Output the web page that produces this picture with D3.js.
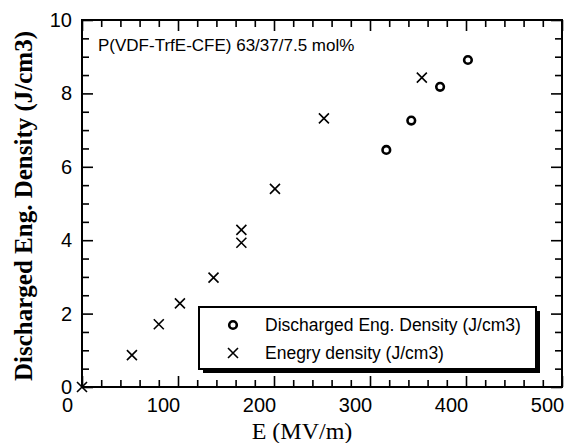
<!DOCTYPE html>
<html>
<head>
<meta charset="utf-8">
<script src="https://cdn.jsdelivr.net/npm/d3@7"></script>
<style>
  body { margin: 0; background: #fff; }
  svg { display: block; }
  .tick text { font-family: "Liberation Sans", Arial, sans-serif; }
</style>
</head>
<body>
<svg id="chart" width="566" height="443"></svg>
<script>
// values
var crossE = [0, 52, 80, 102, 137, 166, 166, 201, 252, 354]
var crossD = [0, 0.87, 1.71, 2.28, 2.98, 3.93, 4.28, 5.40, 7.32, 8.43]
var circE = [317, 343, 373, 402]
var circD = [6.46, 7.26, 8.18, 8.91]
var xLabels = [0, 100, 200, 300, 400, 500]
var yLabels = [0, 2, 4, 6, 8, 10]
var legendNames = ['Discharged Eng. Density (J/cm3)', 'Enegry density (J/cm3)']
var note = 'P(VDF-TrfE-CFE) 63/37/7.5 mol%'

var svg = d3.select('#chart')
// plot box (note: "top" is reserved on window, so use an object)
var box = {left: 82, right: 562, top: 20, bottom: 387}

var x = d3.scaleLinear().domain([0, 500]).range([box.left, box.right])
var y = d3.scaleLinear().domain([0, 10]).range([box.bottom, box.top])

var xMinor = d3.range(0, 501, 20).filter(function(d) { return d % 100 })
var yMinor = d3.range(0, 10.01, 0.5).filter(function(d) { return d % 2 })

function tickAxis(axis, t) {
  var g = svg.append('g').attr('transform', t).call(axis)
  g.select('.domain').remove()
  g.selectAll('.tick line').attr('stroke', '#000').attr('stroke-width', 1.6)
  g.selectAll('.tick text').remove()
  return g
}

// major + minor ticks on all four sides, pointing inward
tickAxis(d3.axisBottom(x).tickValues(xLabels).tickSize(-11), 'translate(0,' + box.bottom + ')')
tickAxis(d3.axisBottom(x).tickValues(xMinor).tickSize(-7), 'translate(0,' + box.bottom + ')')
tickAxis(d3.axisTop(x).tickValues(xLabels).tickSize(-11), 'translate(0,' + box.top + ')')
tickAxis(d3.axisTop(x).tickValues(xMinor).tickSize(-7), 'translate(0,' + box.top + ')')
tickAxis(d3.axisLeft(y).tickValues(yLabels).tickSize(-11), 'translate(' + box.left + ',0)')
tickAxis(d3.axisLeft(y).tickValues(yMinor).tickSize(-7), 'translate(' + box.left + ',0)')
tickAxis(d3.axisRight(y).tickValues(yLabels).tickSize(-11), 'translate(' + box.right + ',0)')
tickAxis(d3.axisRight(y).tickValues(yMinor).tickSize(-7), 'translate(' + box.right + ',0)')

// frame
svg.append('rect')
  .attr('x', box.left).attr('y', box.top)
  .attr('width', box.right - box.left).attr('height', box.bottom - box.top)
  .attr('fill', 'none').attr('stroke', '#000').attr('stroke-width', 2)

// tick labels (the scan has the x labels sitting a bit left of their ticks)
var xl = svg.append('g')
  .attr('transform', 'translate(-15,' + box.bottom + ')')
  .call(d3.axisBottom(x).tickValues(xLabels).tickSize(0).tickPadding(11))
xl.select('.domain').remove()
xl.selectAll('text').attr('font-size', 20).attr('fill', '#000')

var yl = svg.append('g')
  .attr('transform', 'translate(' + box.left + ',0)')
  .call(d3.axisLeft(y).tickValues(yLabels).tickSize(0).tickPadding(10))
yl.select('.domain').remove()
yl.selectAll('text').attr('font-size', 20).attr('fill', '#000')

// axis titles
svg.append('text')
  .attr('x', 302).attr('y', 439)
  .attr('text-anchor', 'middle')
  .attr('font-family', '"Liberation Serif", "Times New Roman", serif')
  .attr('font-size', 24)
  .text('E (MV/m)')

svg.append('text')
  .attr('transform', 'translate(32,206) rotate(-90)')
  .attr('text-anchor', 'middle')
  .attr('font-family', '"Liberation Serif", "Times New Roman", serif')
  .attr('font-weight', 'bold')
  .attr('font-size', 25)
  .text('Discharged Eng. Density (J/cm3)')

svg.append('text')
  .attr('x', 98).attr('y', 51)
  .attr('font-family', '"Liberation Sans", Arial, sans-serif')
  .attr('font-size', 17)
  .text(note)

function cross(sel, size) {
  sel.append('path')
    .attr('d', 'M' + -size + ',' + -size + 'L' + size + ',' + size +
               'M' + -size + ',' + size + 'L' + size + ',' + -size)
    .attr('stroke', '#000').attr('stroke-width', 1.6).attr('fill', 'none')
}

// energy density crosses
svg.append('g').selectAll('g')
  .data(d3.range(crossE.length))
  .join('g')
  .attr('transform', function(i) { return 'translate(' + x(crossE[i]) + ',' + y(crossD[i]) + ')' })
  .call(cross, 5)

// discharged density circles
svg.append('g').selectAll('circle')
  .data(d3.range(circE.length))
  .join('circle')
  .attr('cx', function(i) { return x(circE[i]) })
  .attr('cy', function(i) { return y(circD[i]) })
  .attr('r', 3.8)
  .attr('fill', 'none').attr('stroke', '#000').attr('stroke-width', 2.6)

// legend box with drop shadow
var lg = svg.append('g').attr('transform', 'translate(199,307)')
lg.append('rect').attr('x', 4).attr('y', 4).attr('width', 337).attr('height', 62).attr('fill', '#000')
lg.append('rect').attr('width', 337).attr('height', 62)
  .attr('fill', '#fff').attr('stroke', '#000').attr('stroke-width', 2)

lg.append('circle').attr('cx', 34).attr('cy', 18).attr('r', 3.8)
  .attr('fill', 'none').attr('stroke', '#000').attr('stroke-width', 2.6)
lg.append('g').attr('transform', 'translate(34,46)').call(cross, 5)

lg.selectAll('text.item')
  .data(legendNames)
  .join('text')
  .attr('class', 'item')
  .attr('x', 66)
  .attr('y', function(d, i) { return 18 + i * 28 })
  .attr('dy', '0.35em')
  .attr('font-family', '"Liberation Sans", Arial, sans-serif')
  .attr('font-size', 17.5)
  .text(function(d) { return d })
</script>
</body>
</html>
